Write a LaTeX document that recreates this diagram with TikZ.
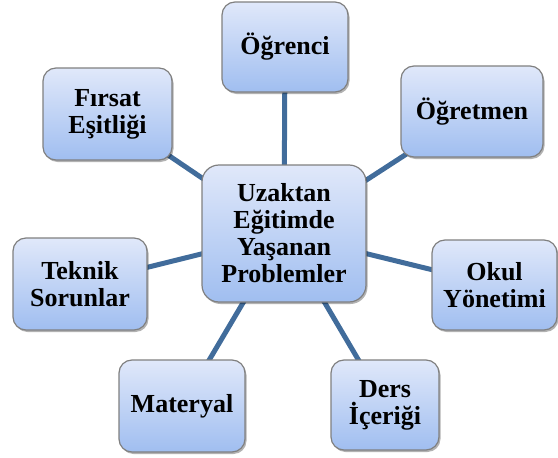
\documentclass[tikz,border=0pt]{standalone}
\usepackage{fontspec}
\setmainfont{Liberation Serif}
\usetikzlibrary{shadows,backgrounds}
\definecolor{boxtop}{RGB}{224,232,250}
\definecolor{boxbot}{RGB}{160,190,240}
\definecolor{boxedge}{RGB}{128,128,128}
\definecolor{linkblue}{RGB}{65,108,155}
\begin{document}
\begin{tikzpicture}[x=1pt,y=-1pt,
  box/.style={draw=boxedge, line width=1.2pt, rounded corners=13pt,
    top color=boxtop, bottom color=boxbot, align=center, inner sep=0pt,
    font=\fontsize{26}{27}\selectfont\bfseries,
    drop shadow={shadow xshift=1.5pt, shadow yshift=-2pt, opacity=0.3, fill=black}},
  link/.style={draw=linkblue, line width=5pt}]
\useasboundingbox (0,0) rectangle (558,458);
\node[box, rounded corners=17pt, minimum width=164pt, minimum height=137pt] (c) at (284,233.5) {Uzaktan\\Eğitimde\\Yaşanan\\Problemler};
\node[box, minimum width=126pt, minimum height=90pt] (ogr) at (285,47) {Öğrenci};
\node[box, minimum width=129pt, minimum height=92pt] (fir) at (107.5,114) {Fırsat\\Eşitliği};
\node[box, minimum width=142pt, minimum height=91pt] (ogt) at (472,111.5) {Öğretmen};
\node[box, minimum width=134pt, minimum height=92pt] (tek) at (80,284) {Teknik\\Sorunlar};
\node[box, minimum width=125pt, minimum height=90pt] (okul) at (494.5,285) {Okul\\Yönetimi};
\node[box, minimum width=126pt, minimum height=92pt] (mat) at (182,406) {Materyal};
\node[box, minimum width=108pt, minimum height=90pt] (ders) at (385,405) {Ders\\İçeriği};
\begin{scope}[on background layer]
\draw[link] (c.center) -- (ogr.center);
\draw[link] (c.center) -- (fir.center);
\draw[link] (c.center) -- (ogt.center);
\draw[link] (c.center) -- (tek.center);
\draw[link] (c.center) -- (okul.center);
\draw[link] (c.center) -- (mat.center);
\draw[link] (c.center) -- (ders.center);
\end{scope}
\end{tikzpicture}
\end{document}
